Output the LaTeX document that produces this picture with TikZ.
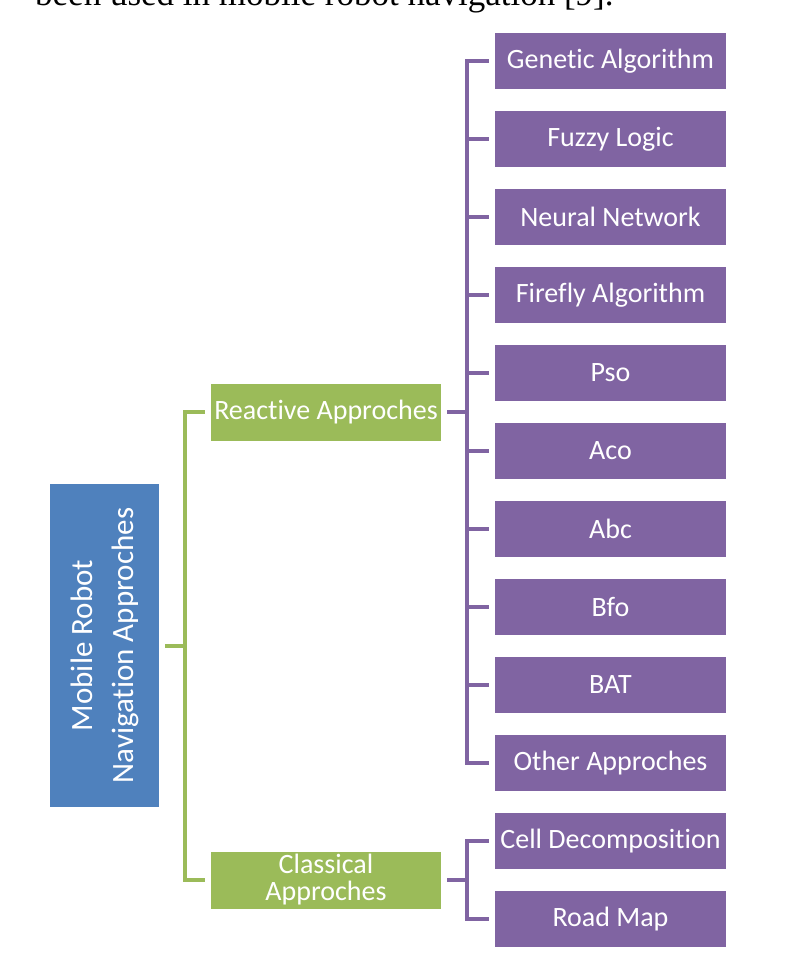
\documentclass[tikz,border=0pt]{standalone}
\usepackage{fontspec}
\setmainfont{Liberation Serif}
\newfontfamily\cajafont[Ligatures=NoCommon]{Carlito}
\usetikzlibrary{positioning}

\definecolor{morado}{HTML}{8064A2}
\definecolor{verdeo}{HTML}{9BBB59}
\definecolor{azulo}{HTML}{4F81BD}

\begin{document}
\begin{tikzpicture}[x=1pt, y=-1pt,
	metodo/.style={fill=morado, text=white, minimum width=231, minimum height=56, inner sep=0pt, font=\cajafont\fontsize{28}{30}\selectfont},
	grupo/.style={fill=verdeo, text=white, minimum width=230, minimum height=57, inner sep=0pt, align=center, font=\cajafont\fontsize{28}{27}\selectfont},
	raiz/.style={fill=azulo, text=white, rotate=90, minimum width=323, minimum height=109, inner sep=0pt, align=center, font=\cajafont\fontsize{31}{41}\selectfont},
	lila/.style={draw=morado, line width=4pt, shorten <=6pt, shorten >=6pt},
	verde/.style={draw=verdeo, line width=4pt, shorten <=6pt, shorten >=6pt}]
	\useasboundingbox (0,0) rectangle (789,955);
	\clip (0,0) rectangle (789,955);

	% Texto cortado arriba
	\node[anchor=base west, inner sep=0pt, font=\fontsize{35}{40}\selectfont] (frase) at (35,6) {been used in mobile robot navigation [9].};

	% Raiz y grupos
	\node[raiz] (mr) at (104.5,645.5) {Mobile Robot\\Navigation Approches};
	\node[grupo] (ra) at (326,412) {Reactive Approches};
	\node[grupo] (cl) at (326,880) {Classical\\Approches};

	% Metodos reactivos
	\foreach \t [count=\i] in {Genetic Algorithm, Fuzzy Logic, Neural Network, Firefly Algorithm, Pso, Aco, Abc, Bfo, BAT, Other Approches} {
		\node[metodo] (m\i) at (610.5,{61+78*(\i-1)}) {\t};
		\draw[lila] (ra.east) -- ++(26,0) |- (m\i.west);
	}

	% Metodos clasicos
	\node[metodo] (c1) at (610.5,841) {Cell Decomposition};
	\node[metodo] (c2) at (610.5,919) {Road Map};
	\foreach \c in {c1,c2}
		\draw[lila] (cl.east) -- ++(26,0) |- (\c.west);

	% Ramas verdes
	\foreach \g in {ra,cl}
		\draw[verde] (mr.south) -- ++(26,0) |- (\g.west);

\end{tikzpicture}
\end{document}
